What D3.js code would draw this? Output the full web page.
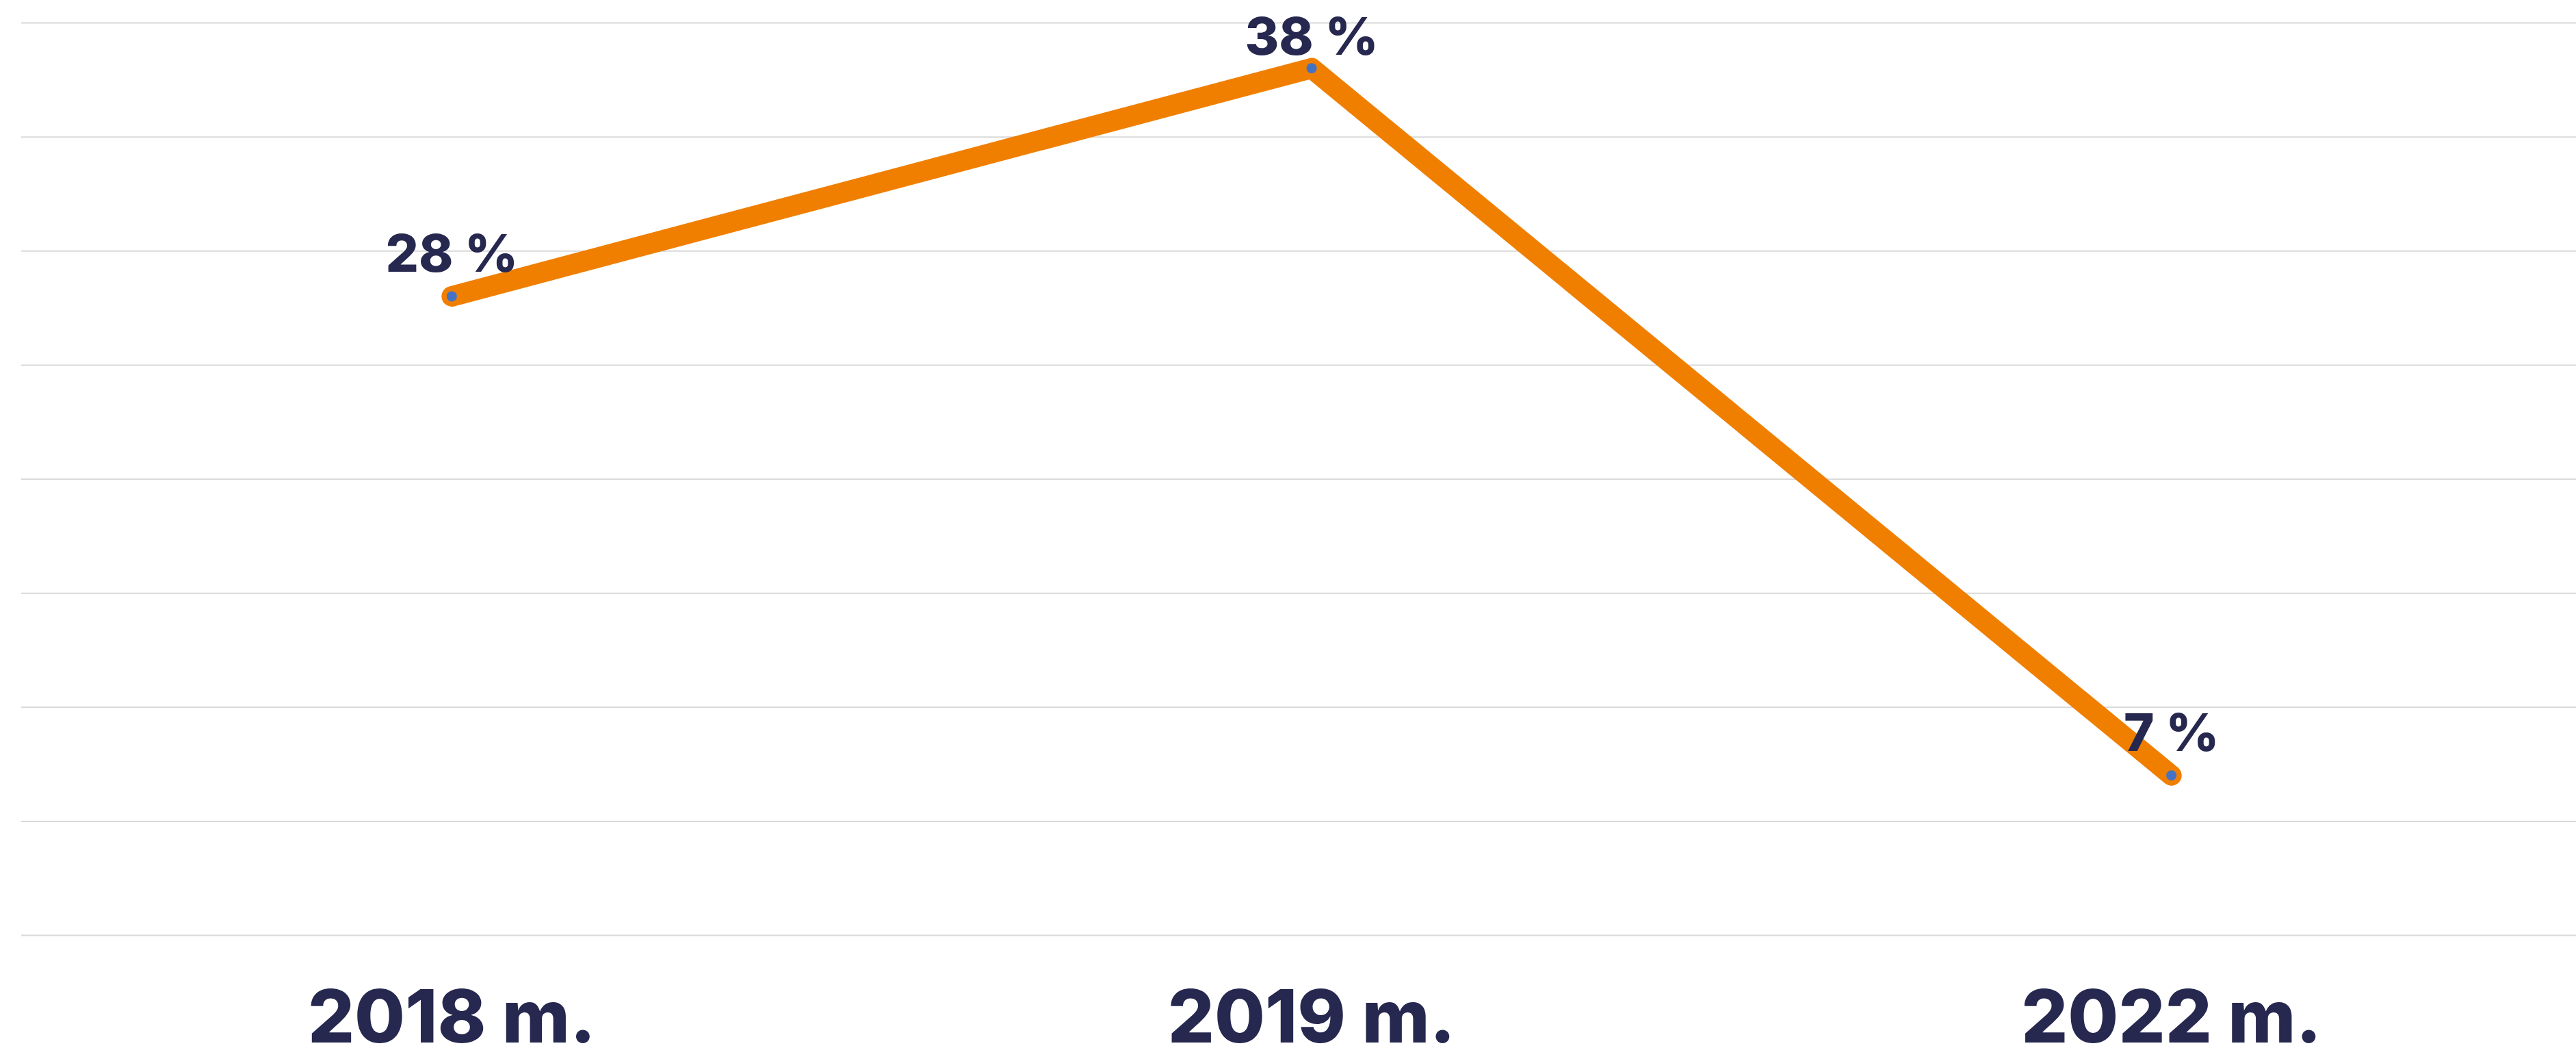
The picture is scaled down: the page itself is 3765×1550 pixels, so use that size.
<!DOCTYPE html>
<html>
<head>
<meta charset="utf-8">
<script src="https://cdn.jsdelivr.net/npm/d3@7"></script>
<style>
  body { margin: 0; background: #fff; overflow: hidden; }
  text { font-family: Inter, "Open Sans", sans-serif; font-weight: 800; fill: #26284f; }
</style>
</head>
<body>
<div id="chart"></div>
<script>
// data
var years = ["2018 m.", "2019 m.", "2022 m."];
var values = [28, 38, 7];
var valueLabels = ["28 %", "38 %", "7 %"];
var gridTicks = [0, 5, 10, 15, 20, 25, 30, 35, 40];

var width = 3765, height = 1550;

var svg = d3.select("#chart").append("svg")
  .attr("width", width)
  .attr("height", height);

// scales
var x = d3.scaleBand().domain(years).range([32, 3802]);
var y = d3.scaleLinear().domain([0, 40]).range([1366, 33]);

// horizontal grid
svg.append("g")
  .attr("transform", "translate(31,0)")
  .call(d3.axisLeft(y).tickValues(gridTicks).tickSize(-(width - 31)).tickFormat(""))
  .call(function(g) {
    g.select(".domain").remove();
    g.selectAll(".tick line").attr("stroke", "#d9d9d9").attr("stroke-width", 2);
  });

// x axis labels
svg.append("g")
  .attr("transform", "translate(0,1523)")
  .call(d3.axisBottom(x).tickSize(0).tickPadding(0))
  .call(function(g) {
    g.select(".domain").remove();
    g.selectAll(".tick text")
      .attr("dy", 0)
      .attr("y", 0)
      .style("font-size", "107px")
      .attr("fill", "#26284f");
  });

var pts = years.map(function(d, i) { return {year: d, v: values[i], label: valueLabels[i]}; });
var cx = function(d) { return x(d.year) + x.bandwidth() / 2; };

// the line
svg.append("path")
  .datum(pts)
  .attr("fill", "none")
  .attr("stroke", "#f07f00")
  .attr("stroke-width", 30)
  .attr("stroke-linecap", "round")
  .attr("stroke-linejoin", "round")
  .attr("d", d3.line().x(cx).y(function(d) { return y(d.v); }));

// markers
svg.selectAll("circle.pt")
  .data(pts)
  .enter().append("circle")
  .attr("class", "pt")
  .attr("r", 7.5)
  .attr("cx", cx)
  .attr("cy", function(d) { return y(d.v); })
  .style("fill", "#4472c4");

// value labels
svg.selectAll("text.val")
  .data(pts)
  .enter().append("text")
  .attr("class", "val")
  .attr("text-anchor", "middle")
  .attr("x", cx)
  .attr("y", function(d) { return Math.max(y(d.v) - 36, 80); })
  .style("font-size", "76px")
  .text(function(d) { return d.label; });
</script>
</body>
</html>
